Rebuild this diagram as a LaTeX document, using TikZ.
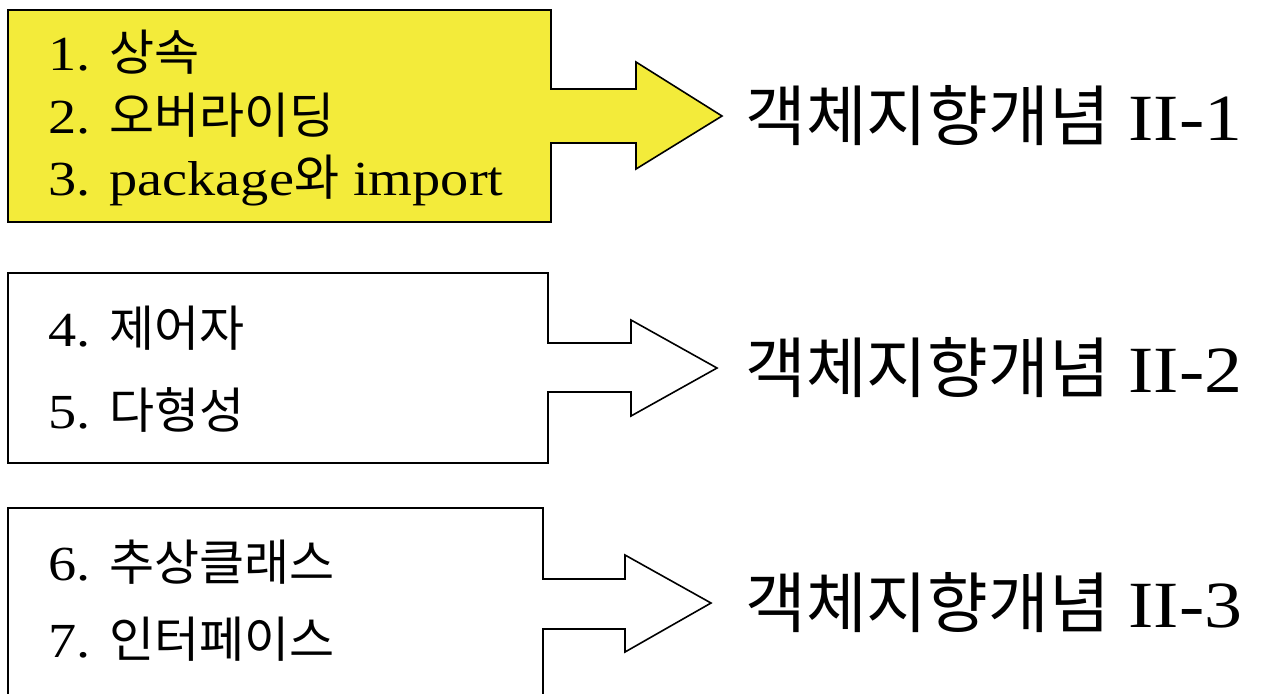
\documentclass[tikz,border=0pt]{standalone}
\usepackage{fontspec}
\setmainfont{Liberation Serif}[FakeStretch=1.15]
\newfontfamily\krfont{Noto Sans CJK KR}
\newcommand{\kr}[1]{{\krfont #1}}
\usepackage{xcolor}
\usetikzlibrary{positioning}
\definecolor{boxyellow}{RGB}{243,235,58}

\begin{document}
\begin{tikzpicture}[x=0.5pt, y=-0.5pt,
    callout/.style={draw=black, line width=0.8pt, line join=miter},
    item/.style={anchor=base west, inner sep=0pt, font=\fontsize{24.5}{28}\selectfont},
    topic/.style={inner sep=0pt, font=\fontsize{33}{38}\selectfont}
  ]
  \useasboundingbox (0,0) rectangle (1268,693);
  \clip (0,0) rectangle (1268,693);

  % First block (highlighted)
  \coordinate (tip1) at (722,116);
  \draw[callout, fill=boxyellow] (8,10) -- (551,10) -- (551,89) -- (636,89)
    -- (636,62) -- (tip1) -- (636,169) -- (636,143) -- (551,143)
    -- (551,222) -- (8,222) -- cycle;
  \node[item] (inherit) at (48,70) {1. \kr{상속}};
  \node[item] (override) at (48,133) {2. \kr{오버라이딩}};
  \node[item] (pkg) at (48,195) {3. package\kr{와} import};
  \node[topic, right=11.5pt of tip1] (oop1) {\kr{객체지향개념} II-1};

  % Second block
  \coordinate (tip2) at (717,368);
  \draw[callout, fill=white] (8,273) -- (548,273) -- (548,343) -- (631,343)
    -- (631,320) -- (tip2) -- (631,416) -- (631,392) -- (548,392)
    -- (548,463) -- (8,463) -- cycle;
  \node[item] (modifier) at (48,346) {4. \kr{제어자}};
  \node[item] (poly) at (48,428) {5. \kr{다형성}};
  \node[topic, right=14pt of tip2] (oop2) {\kr{객체지향개념} II-2};

  % Third block (runs off the bottom)
  \coordinate (tip3) at (711,603);
  \draw[callout, fill=white] (8,508) -- (543,508) -- (543,579) -- (625,579)
    -- (625,555) -- (tip3) -- (625,652) -- (625,629) -- (543,629)
    -- (543,720) -- (8,720) -- cycle;
  \node[item] (abstract) at (48,580) {6. \kr{추상클래스}};
  \node[item] (iface) at (48,657) {7. \kr{인터페이스}};
  \node[topic, right=17pt of tip3] (oop3) {\kr{객체지향개념} II-3};
\end{tikzpicture}
\end{document}
